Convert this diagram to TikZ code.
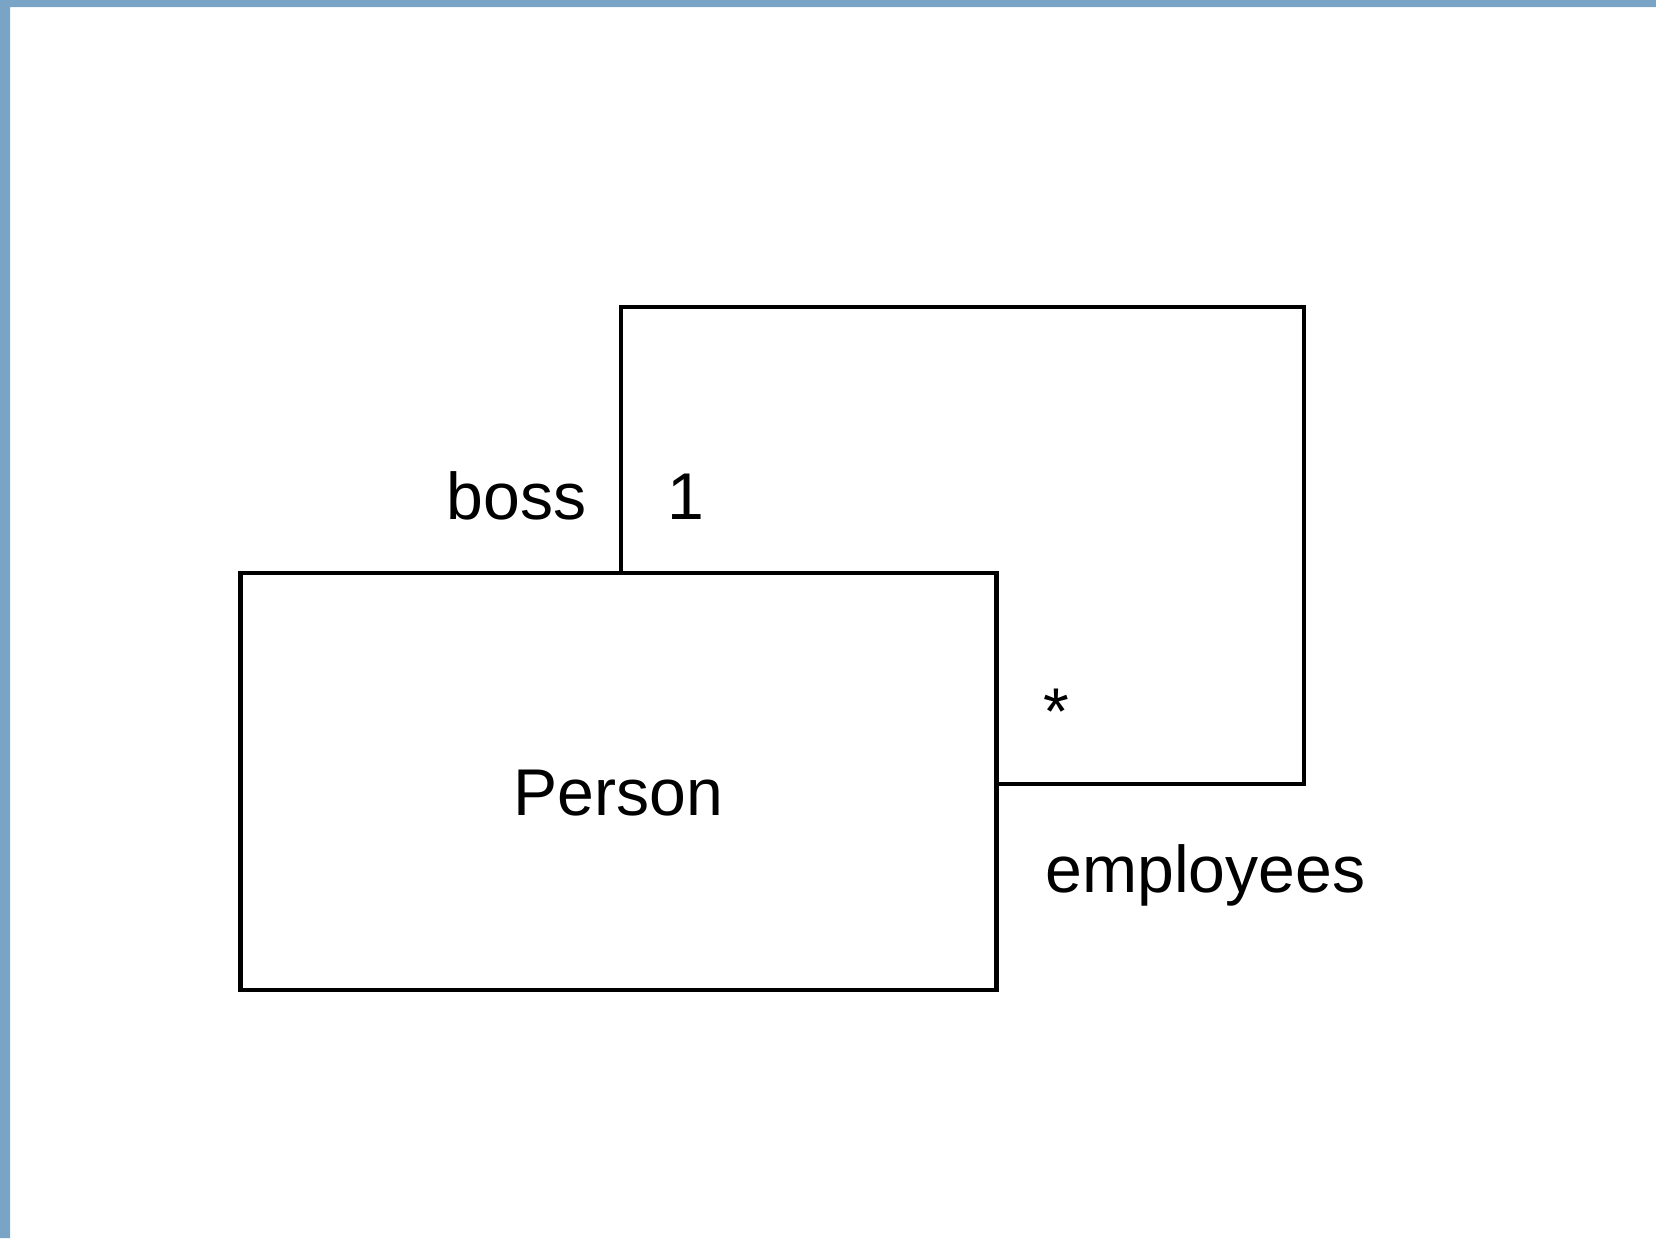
\documentclass[tikz,border=0pt]{standalone}
\usepackage{fontspec}
\setmainfont{Liberation Sans}
\definecolor{frameblue}{RGB}{122,164,198}
\tikzset{
  umlfont/.style={font=\fontsize{18.8}{22}\selectfont},
  classbox/.style={draw, umlfont, line width=1.3pt, inner sep=0pt, outer sep=0pt,
                   minimum width=7.55cm, minimum height=4.17cm,
                   text height=19.6pt, text depth=0pt},
  assoc/.style={line width=1.3pt},
  lbl/.style={umlfont, inner sep=0pt}
}
\begin{document}
\begin{tikzpicture}[x=0.01cm, y=-0.01cm]
      \useasboundingbox (0, 0) rectangle (1656, 1238);
      \fill [frameblue] (0, 0) rectangle (1656, 7)
                        (0, 0) rectangle (10, 1238);
      \node (person) [classbox] at (618.5, 781.5) {Person};
      \coordinate (corner) at (1304, 307);
      \draw [assoc] ([xshift=0.025cm]person.north) |- (corner)
                    |- ([yshift=-0.025cm]person.east);
      \node (boss) [lbl, anchor=base east] at (587, 519) {boss};
      \node (one) [lbl, anchor=base] at (686, 519) {1};
      \node (many) [lbl, anchor=base] at (1056, 734) {*};
      \node (employees) [lbl, anchor=base west] at (1045, 892) {employees};
\end{tikzpicture}
\end{document}
